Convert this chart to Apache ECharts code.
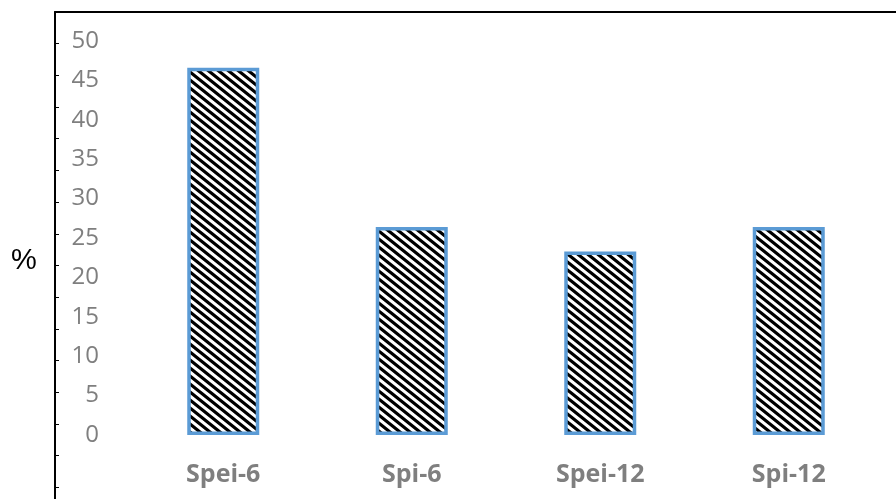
<!DOCTYPE html>
<html>
<head>
<meta charset="utf-8">
<script src="https://cdn.jsdelivr.net/npm/echarts@6/dist/echarts.min.js"></script>
<style>
html,body{margin:0;padding:0;background:#fff;}
#chart{width:896px;height:499px;}
</style>
</head>
<body>
<div id="chart"></div>
<script>
const categories = ['Spei-6', 'Spi-6', 'Spei-12', 'Spi-12'];
const values = [46.6, 26.4, 23.3, 26.4];
const yTicks = [0, 5, 10, 15, 20, 25, 30, 35, 40, 45, 50];

function makeHatch() {
  const w = 10, h = 8;
  const c = document.createElement('canvas');
  c.width = w; c.height = h;
  const g = c.getContext('2d');
  g.fillStyle = '#ffffff';
  g.fillRect(0, 0, w, h);
  g.strokeStyle = '#000000';
  g.lineWidth = 3.2;
  g.beginPath();
  for (let k = -2; k <= 2; k++) {
    g.moveTo(-w, -h + k * h);
    g.lineTo(2 * w, 2 * h + k * h);
  }
  g.stroke();
  return c;
}

const chart = echarts.init(document.getElementById('chart'), null, {renderer: 'canvas'});
const option = {
  animation: false,
  backgroundColor: '#ffffff',
  grid: [
    {left: 129, right: 13, top: 41, bottom: 64},
    {left: 55, right: 0, top: 12, bottom: 0}
  ],
  graphic: [{
    type: 'text', left: 11, top: 246,
    style: {text: '%', fill: '#000', font: '29px "Liberation Sans"'}
  }],
  xAxis: [
    {
      type: 'category', gridIndex: 0, data: categories,
      axisLine: {show: false}, axisTick: {show: false},
      axisLabel: {color: '#7f7f7f', fontFamily: 'Open Sans', fontWeight: 'bold', fontSize: 25, margin: 27}
    },
    {
      type: 'value', gridIndex: 1, position: 'top', min: 0, max: 1,
      axisLine: {show: true, lineStyle: {color: '#000', width: 2}},
      axisTick: {show: false}, axisLabel: {show: false}, splitLine: {show: false}
    }
  ],
  yAxis: [
    {
      type: 'value', gridIndex: 0, min: yTicks[0], max: yTicks[yTicks.length - 1], interval: 5,
      axisLine: {show: false}, axisTick: {show: false}, splitLine: {show: false},
      axisLabel: {color: '#7f7f7f', fontFamily: 'Open Sans', fontSize: 24, margin: 30}
    },
    {
      type: 'value', gridIndex: 1, inverse: true, min: 0, max: 15.37, interval: 1,
      axisLine: {show: true, lineStyle: {color: '#000', width: 2}},
      axisTick: {show: true, inside: true, length: 4, lineStyle: {color: '#000', width: 1}},
      axisLabel: {show: false}, splitLine: {show: false}
    }
  ],
  series: [{
    type: 'bar', xAxisIndex: 0, yAxisIndex: 0,
    data: values, barWidth: 72,
    itemStyle: {
      color: {image: makeHatch(), repeat: 'repeat'},
      borderColor: '#5b9bd5', borderWidth: 3.5
    }
  }]
};
chart.setOption(option);
</script>
</body>
</html>
